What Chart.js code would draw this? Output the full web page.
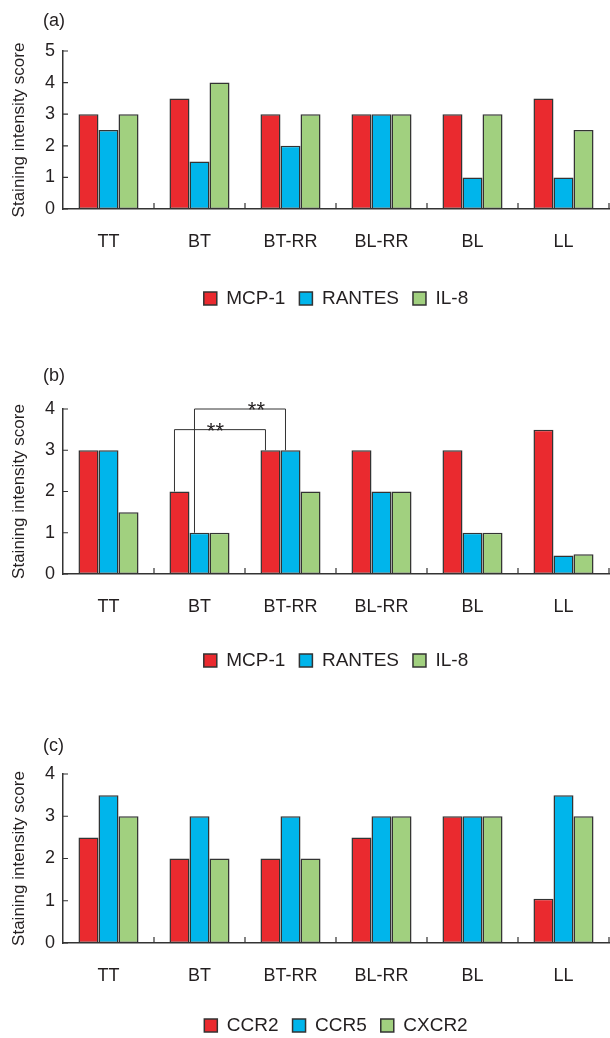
<!DOCTYPE html>
<html>
<head>
<meta charset="utf-8">
<script src="https://cdn.jsdelivr.net/npm/chart.js@4.4.0/dist/chart.umd.min.js"></script>
<style>
  body { margin: 0; background: #fff; width: 610px; height: 1038px; position: relative; overflow: hidden;
         font-family: "Liberation Sans", Arial, sans-serif; }
  .panel { position: absolute; left: 0; }
  .tag { position: absolute; left: 43px; font-size: 18px; line-height: 18px; color: #231f20; }
</style>
</head>
<body>
<div class="panel" style="top:0px"><canvas id="chartA" width="610" height="330"></canvas></div>
<div class="panel" style="top:330px"><canvas id="chartB" width="610" height="350"></canvas></div>
<div class="panel" style="top:700px"><canvas id="chartC" width="610" height="345"></canvas></div>
<div class="tag" style="top:11px">(a)</div>
<div class="tag" style="top:366px">(b)</div>
<div class="tag" style="top:736px">(c)</div>

<script>
// categories and series
const categories = ["TT", "BT", "BT-RR", "BL-RR", "BL", "LL"];
const chemokineNames = ["MCP-1", "RANTES", "IL-8"];
const receptorNames = ["CCR2", "CCR5", "CXCR2"];

// (a)
const aMCP1   = [3, 3.5, 3, 3, 3, 3.5];
const aRANTES = [2.5, 1.5, 2, 3, 1, 1];
const aIL8    = [3, 4, 3, 3, 3, 2.5];
// (b)
const bMCP1   = [3, 2, 3, 3, 3, 3.5];
const bRANTES = [3, 1, 3, 2, 1, 0.45];
const bIL8    = [1.5, 1, 2, 2, 1, 0.48];
// (c)
const cCCR2  = [2.5, 2, 2, 2.5, 3, 1.05];
const cCCR5  = [3.5, 3, 3, 3, 3, 3.5];
const cCXCR2 = [3, 2, 2, 3, 3, 3];

const aMax = 5, bMax = 4, cMax = 4;

// significance brackets in (b): [category, series] -> [category, series], height in score units
const bBrackets = [
  { from: [1, 0], to: [2, 0], level: 3.5, text: "**", at: 0.45 },
  { from: [1, 1], to: [2, 1], level: 4.0, text: "**", at: 0.68 }
];

const colors = ["#ea2a2f", "#00b5eb", "#a1d07f"];
const ink = "#231f20";
const FONT = "'Liberation Sans', Arial, sans-serif";

const innerTicks = {
  id: "innerTicks",
  afterDatasetsDraw(chart) {
    const { ctx, chartArea: a, scales } = chart;
    ctx.save();
    ctx.strokeStyle = "#333";
    ctx.lineWidth = 1.2;
    ctx.beginPath();
    scales.y.ticks.forEach(t => {
      const y = scales.y.getPixelForValue(t.value);
      ctx.moveTo(a.left, y);
      ctx.lineTo(a.left + 5, y);
    });
    const n = chart.data.labels.length;
    for (let i = 1; i <= n; i++) {
      const x = a.left + i * a.width / n;
      ctx.moveTo(x, a.bottom);
      ctx.lineTo(x, a.bottom - 6);
    }
    ctx.stroke();
    ctx.restore();
  }
};

const brackets = {
  id: "brackets",
  afterDatasetsDraw(chart, args, opts) {
    const items = opts.items || [];
    if (!items.length) return;
    const { ctx, scales } = chart;
    ctx.save();
    ctx.strokeStyle = "#333";
    ctx.lineWidth = 1;
    ctx.fillStyle = ink;
    ctx.font = "22px " + FONT;
    ctx.textAlign = "center";
    ctx.textBaseline = "alphabetic";
    items.forEach(b => {
      const p = chart.getDatasetMeta(b.from[1]).data[b.from[0]];
      const q = chart.getDatasetMeta(b.to[1]).data[b.to[0]];
      const x1 = p.x - p.width / 4, x2 = q.x - q.width / 4;
      const ly = scales.y.getPixelForValue(b.level);
      ctx.beginPath();
      ctx.moveTo(x1, p.y);
      ctx.lineTo(x1, ly);
      ctx.lineTo(x2, ly);
      ctx.lineTo(x2, q.y);
      ctx.stroke();
      ctx.fillText(b.text, x1 + (x2 - x1) * b.at, ly + 8);
    });
    ctx.restore();
  }
};

function makeChart(id, names, series, yMax, pad, xHeight, marks) {
  return new Chart(document.getElementById(id), {
    type: "bar",
    data: {
      labels: categories,
      datasets: series.map((d, i) => ({
        label: names[i],
        data: d,
        backgroundColor: colors[i],
        borderColor: "#333",
        borderWidth: 1.5,
        borderSkipped: false,
        categoryPercentage: 0.66,
        barPercentage: 1
      }))
    },
    options: {
      responsive: false,
      animation: false,
      layout: { padding: { top: pad.top, bottom: pad.bottom, left: 0, right: 1 } },
      scales: {
        x: {
          grid: { display: false, drawTicks: false },
          border: { display: true, color: "#333", width: 1.5 },
          ticks: { color: ink, font: { family: FONT, size: 18 }, padding: 22 },
          afterFit(s) { s.height = xHeight; }
        },
        y: {
          min: 0,
          max: yMax,
          grid: { display: false, drawTicks: false },
          border: { display: true, color: "#333", width: 1.5 },
          ticks: { stepSize: 1, color: ink, font: { family: FONT, size: 18 }, padding: 8 },
          title: { display: true, text: "Staining intensity score", color: ink,
                   font: { family: FONT, size: 17 }, padding: { top: 9, bottom: 0 } },
          afterFit(s) { s.width = 63; }
        }
      },
      plugins: {
        legend: {
          position: "bottom",
          fullSize: false,
          labels: { boxWidth: 13, boxHeight: 13, padding: 14, color: ink,
                    font: { family: FONT, size: 19 } }
        },
        tooltip: { enabled: false },
        brackets: { items: marks || [] }
      }
    },
    plugins: [innerTicks, brackets]
  });
}

makeChart("chartA", chemokineNames, [aMCP1, aRANTES, aIL8], aMax, { top: 51, bottom: 12 }, 66);
makeChart("chartB", chemokineNames, [bMCP1, bRANTES, bIL8], bMax, { top: 79, bottom: 0 }, 63, bBrackets);
makeChart("chartC", receptorNames, [cCCR2, cCCR5, cCXCR2], cMax, { top: 74, bottom: 0 }, 59);
</script>
</body>
</html>
